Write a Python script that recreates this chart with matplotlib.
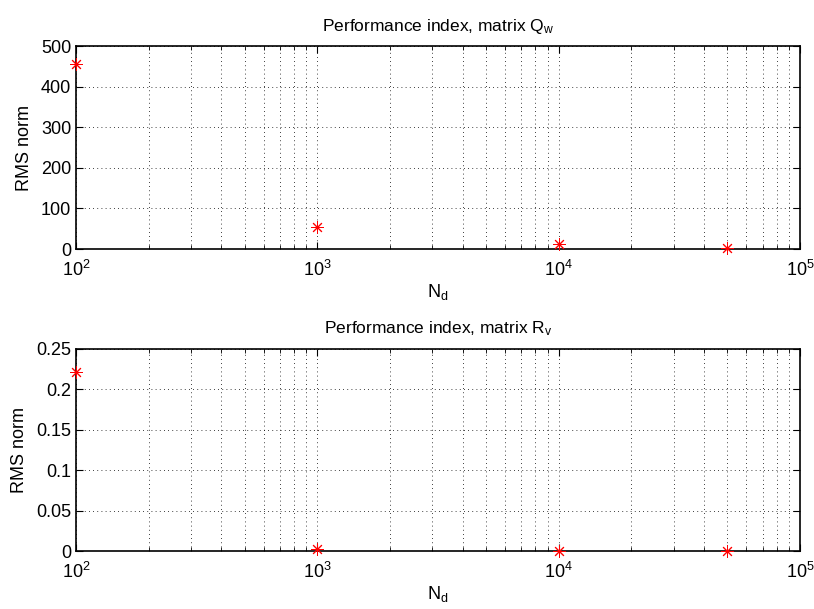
import matplotlib
matplotlib.use("Agg")
import matplotlib.pyplot as plt
from matplotlib.ticker import LogLocator, MultipleLocator, NullFormatter, FuncFormatter

plt.rcParams['font.family'] = ['Liberation Sans', 'DejaVu Sans']
plt.rcParams['mathtext.fontset'] = 'custom'
plt.rcParams['mathtext.rm'] = 'Liberation Sans'
plt.rcParams['mathtext.it'] = 'Liberation Sans'
plt.rcParams['mathtext.default'] = 'regular'

Nd = [1e2, 1e3, 1e4, 5e4]
rms_Qw = [455, 55, 11.5, 1.5]
rms_Rv = [0.222, 0.002, 0.0006, 0.0002]

titles = [r'Performance index, matrix Q$_{\rm w}$', r'Performance index, matrix R$_{\rm v}$']
ylims = [(0, 500), (0, 0.25)]
ysteps = [100, 0.05]
series = [rms_Qw, rms_Rv]

fig = plt.figure(figsize=(8.14, 6.09), dpi=100)
rects = [[76/814, 1-249/609, (800-76)/814, (249-46)/609],
         [76/814, 1-551/609, (800-76)/814, (551-349)/609]]

for rect, title, yl, ys, vals in zip(rects, titles, ylims, ysteps, series):
    ax = fig.add_axes(rect)
    ax.set_xscale('log')
    ax.set_xlim(1e2, 1e5)
    ax.set_ylim(*yl)
    ax.yaxis.set_major_locator(MultipleLocator(ys))
    ax.yaxis.set_major_formatter(FuncFormatter(lambda v, p: '%g' % round(v, 10)))
    ax.xaxis.set_minor_locator(LogLocator(base=10, subs=range(2, 10)))
    ax.xaxis.set_minor_formatter(NullFormatter())
    ax.plot(Nd, vals, linestyle='none', marker=(8, 2, 0), color='red',
            markersize=9, markeredgewidth=0.7, clip_on=False, zorder=5)
    ax.grid(True, which='major', axis='both', linestyle=(0, (1, 4)), color='black', linewidth=0.6)
    ax.grid(True, which='minor', axis='x', linestyle=(0, (1, 4)), color='black', linewidth=0.6)
    ax.tick_params(which='both', direction='in', top=True, right=True, labelsize=13)
    ax.tick_params(axis='x', which='major', pad=8)
    ax.tick_params(which='major', length=5)
    ax.tick_params(which='minor', length=3)
    for s in ax.spines.values():
        s.set_linewidth(1.2)
    ax.set_title(title, fontsize=12.5, pad=11)
    ax.set_xlabel(r'N$_{\rm d}$', fontsize=13, labelpad=1)
    ax.set_ylabel('RMS norm', fontsize=13, labelpad=6)

fig.savefig('out.png', dpi=100)
